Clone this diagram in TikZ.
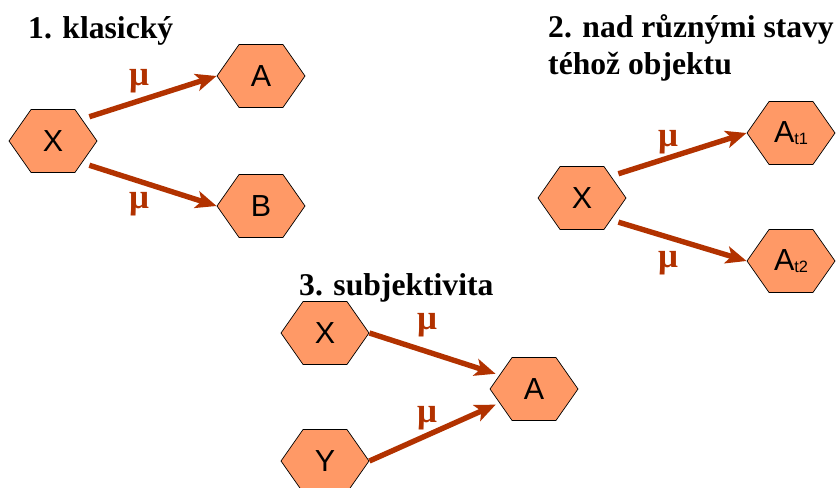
\documentclass[tikz,border=0pt]{standalone}
\usepackage{fontspec}
\newfontfamily\arial{Liberation Sans}
\newfontfamily\serifbold{Liberation Serif}
\usetikzlibrary{shapes.symbols, arrows.meta, positioning}
\definecolor{hexfill}{HTML}{FF9966}
\definecolor{mapping}{HTML}{B23200}

\begin{document}
\begin{tikzpicture}[
  hexa/.style={signal, signal to=east and west, signal pointer angle=110,
               draw=black, line width=0.6pt, fill=hexfill, inner sep=0pt,
               minimum width=2.64cm, minimum height=1.89cm,
               font=\arial\fontsize{26}{26}\selectfont},
  title/.style={anchor=base west, inner sep=0pt, align=left,
                font=\serifbold\fontsize{27}{32}\selectfont\bfseries},
  map/.style={-{Stealth[length=0.62cm, width=0.52cm, inset=0.15cm]},
              line width=4.6pt, draw=mapping},
  mu/.style={text=mapping, font=\serifbold\fontsize{30}{30}\selectfont\bfseries},
]
  \useasboundingbox (0,0) rectangle (25.08,-14.64);

  % 1. klasicky
  \node[title] (t1) at (0.84,-1.17) {1. klasický};
  \node[hexa] (x1) at (1.59,-4.23) {X};
  \node[hexa] (a1) at (7.83,-2.28) {A};
  \node[hexa] (b1) at (7.83,-6.18) {B};
  \draw[map, shorten <=0.23cm] (x1.37) -- (a1.west);
  \draw[map, shorten <=0.23cm] (x1.-37) -- (b1.west);
  \node[mu] (mu1a) at (4.17,-2.43) {μ};
  \node[mu] (mu1b) at (4.17,-6.12) {μ};

  % 2. stavy tehoz objektu
  \node[title] (t2) at (16.44,-2.25) {2. nad různými stavy\\téhož objektu};
  \node[hexa] (x2) at (17.46,-5.94) {X};
  \node[hexa] (at1) at (23.73,-3.99) {A{\fontsize{14}{14}\selectfont\raisebox{-2pt}{t1}}};
  \node[hexa] (at2) at (23.73,-7.83) {A{\fontsize{14}{14}\selectfont\raisebox{-2pt}{t2}}};
  \draw[map, shorten <=0.23cm] (x2.37) -- (at1.west);
  \draw[map, shorten <=0.23cm] (x2.-37) -- (at2.west);
  \node[mu] (mu2a) at (20.04,-4.26) {μ};
  \node[mu] (mu2b) at (20.04,-7.89) {μ};

  % 3. subjektivita
  \node[title] (t3) at (8.97,-8.85) {3. subjektivita};
  \node[hexa] (x3) at (9.75,-9.99) {X};
  \node[hexa] (y3) at (9.75,-13.83) {Y};
  \node[hexa] (a3) at (16.02,-11.67) {A};
  \draw[map, shorten >=0.12cm] (x3.east) -- (a3.158);
  \draw[map, shorten >=0.12cm] (y3.east) -- (a3.202);
  \node[mu] (mu3a) at (12.81,-9.75) {μ};
  \node[mu] (mu3b) at (12.81,-12.54) {μ};
\end{tikzpicture}
\end{document}
